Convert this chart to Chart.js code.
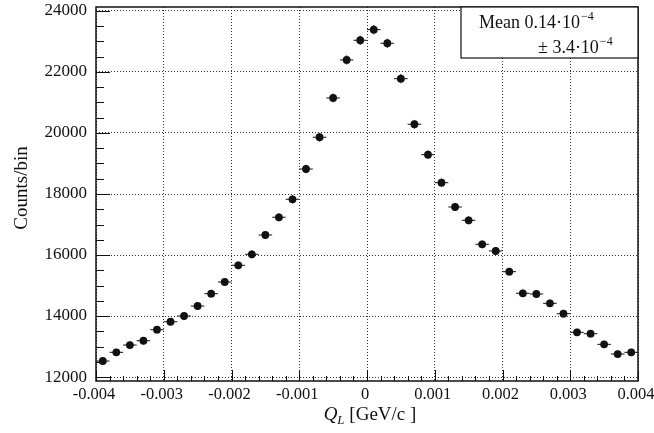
<!DOCTYPE html>
<html>
<head>
<meta charset="utf-8">
<script src="https://cdn.jsdelivr.net/npm/chart.js@4"></script>
<style>
  body { margin: 0; background: #fff; }
  #wrap { width: 654px; height: 433px; }
</style>
</head>
<body>
<div id="wrap"><canvas id="grafico"></canvas></div>
<script>
// bin centers in GeV/c (bin width 0.0002)
const binCenters = [-0.0039, -0.0037, -0.0035, -0.0033, -0.0031, -0.0029, -0.0027, -0.0025, -0.0023, -0.0021,
  -0.0019, -0.0017, -0.0015, -0.0013, -0.0011, -0.0009, -0.0007, -0.0005, -0.0003, -0.0001,
  0.0001, 0.0003, 0.0005, 0.0007, 0.0009, 0.0011, 0.0013, 0.0015, 0.0017, 0.0019,
  0.0021, 0.0023, 0.0025, 0.0027, 0.0029, 0.0031, 0.0033, 0.0035, 0.0037, 0.0039];
const counts = [12525, 12810, 13049, 13190, 13551, 13813, 14000, 14328, 14731, 15115,
  15663, 16023, 16656, 17237, 17827, 18820, 19860, 21149, 22395, 23040,
  23388, 22942, 21781, 20286, 19289, 18371, 17574, 17138, 16351, 16132,
  15453, 14745, 14722, 14417, 14076, 13466, 13420, 13072, 12754, 12810];
const countErrors = [112, 113, 114, 115, 116, 118, 118, 120, 121, 123,
  125, 127, 129, 131, 134, 137, 141, 145, 150, 152,
  153, 151, 148, 142, 139, 136, 133, 131, 128, 127,
  124, 121, 121, 120, 119, 116, 116, 114, 113, 113];
const binHalfWidth = 0.0001;

const xTicks = [-0.004, -0.003, -0.002, -0.001, 0, 0.001, 0.002, 0.003, 0.004];
const yTicks = [12000, 14000, 16000, 18000, 20000, 22000, 24000];
const xMinorStep = 0.0002;
const yMinorStep = 500;

const statLines = [['Mean 0.14\u00b710', '\u22124'], ['\u00b1 3.4\u00b710', '\u22124']];
const yTitle = 'Counts/bin';

const serif = '"Liberation Serif", "DejaVu Serif", serif';

const decor = {
  id: 'decor',
  beforeDatasetsDraw(chart) {
    const ctx = chart.ctx;
    const xs = chart.scales.x, ys = chart.scales.y;
    ctx.save();
    ctx.strokeStyle = '#111';
    ctx.lineWidth = 1;
    binCenters.forEach((c, i) => {
      const px = xs.getPixelForValue(c);
      const py = ys.getPixelForValue(counts[i]);
      ctx.beginPath();
      ctx.moveTo(xs.getPixelForValue(c - binHalfWidth), py);
      ctx.lineTo(xs.getPixelForValue(c + binHalfWidth), py);
      ctx.moveTo(px, ys.getPixelForValue(counts[i] - countErrors[i]));
      ctx.lineTo(px, ys.getPixelForValue(counts[i] + countErrors[i]));
      ctx.stroke();
    });
    ctx.restore();
  },
  afterDraw(chart) {
    const ctx = chart.ctx;
    const a = chart.chartArea;
    const xs = chart.scales.x, ys = chart.scales.y;
    ctx.save();
    ctx.strokeStyle = '#111';
    // tick marks, inward
    ctx.lineWidth = 1;
    ctx.beginPath();
    for (let v = 12000; v <= 24000; v += yMinorStep) {
      const py = Math.round(ys.getPixelForValue(v)) + 0.5;
      const len = (v % 2000 === 0) ? 14 : 8;
      ctx.moveTo(a.left, py);
      ctx.lineTo(a.left + len, py);
    }
    for (let k = -20; k <= 20; k++) {
      const v = k * xMinorStep;
      const px = Math.round(xs.getPixelForValue(v)) + 0.5;
      const len = (k % 5 === 0) ? 11 : 5;
      ctx.moveTo(px, a.bottom);
      ctx.lineTo(px, a.bottom - len);
    }
    ctx.stroke();
    // frame
    ctx.lineWidth = 1.5;
    ctx.strokeRect(a.left, a.top, a.right - a.left, a.bottom - a.top);

    // stats box
    const bx = 461, by = a.top;
    ctx.fillStyle = '#fff';
    ctx.fillRect(bx, by, a.right - bx, 51);
    ctx.lineWidth = 1.2;
    ctx.strokeRect(bx, by, a.right - bx, 51);
    ctx.fillStyle = '#111';
    ctx.textBaseline = 'alphabetic';
    ctx.textAlign = 'left';
    const starts = [[479, 28], [538, 53]];
    statLines.forEach((ln, i) => {
      ctx.font = '18px ' + serif;
      ctx.fillText(ln[0], starts[i][0], starts[i][1]);
      const w = ctx.measureText(ln[0]).width;
      ctx.font = '12px ' + serif;
      ctx.fillText(ln[1], starts[i][0] + w + 1, starts[i][1] - 8);
    });

    // x axis title: Q_L [GeV/c ]
    ctx.font = 'italic 19px ' + serif;
    const q = 'Q';
    const qw = ctx.measureText(q).width;
    ctx.font = 'italic 13px ' + serif;
    const lw = ctx.measureText('L').width;
    ctx.font = '19px ' + serif;
    const rest = ' [GeV/c ]';
    const rw = ctx.measureText(rest).width;
    let tx = 370 - (qw + lw + rw) / 2;
    const ty = 420;
    ctx.font = 'italic 19px ' + serif;
    ctx.fillText(q, tx, ty);
    tx += qw;
    ctx.font = 'italic 13px ' + serif;
    ctx.fillText('L', tx, ty + 4);
    tx += lw;
    ctx.font = '19px ' + serif;
    ctx.fillText(rest, tx, ty);

    // y axis title
    ctx.translate(27, (a.top + a.bottom) / 2 - 6);
    ctx.rotate(-Math.PI / 2);
    ctx.textAlign = 'center';
    ctx.font = '19px ' + serif;
    ctx.fillText(yTitle, 0, 0);
    ctx.restore();
  }
};

const chart = new Chart(document.getElementById('grafico'), {
  type: 'scatter',
  data: {
    datasets: [{
      data: binCenters.map((c, i) => ({ x: c, y: counts[i] })),
      backgroundColor: '#111',
      borderColor: '#111',
      pointRadius: 3.9,
      pointBorderWidth: 0
    }]
  },
  options: {
    responsive: true,
    maintainAspectRatio: false,
    animation: false,
    layout: { padding: { top: 7, right: 16, left: 0, bottom: 0 } },
    plugins: { legend: { display: false }, tooltip: { enabled: false } },
    scales: {
      x: {
        type: 'linear',
        min: -0.004,
        max: 0.004,
        afterBuildTicks: s => { s.ticks = xTicks.map(v => ({ value: v })); },
        afterFit: s => { s.height = 52; s.paddingLeft = 0; s.paddingRight = 0; },
        ticks: {
          color: '#111',
          font: { family: serif, size: 16.5 },
          padding: 4,
          labelOffset: -2,
          maxRotation: 0,
          autoSkip: false,
          callback: v => (v === 0 ? '0' : v.toFixed(3))
        },
        grid: { color: '#333', lineWidth: 1, drawTicks: false },
        border: { display: false, dash: [1, 2] }
      },
      y: {
        min: 11870,
        max: 24130,
        afterBuildTicks: s => { s.ticks = yTicks.map(v => ({ value: v })); },
        afterFit: s => { s.width = 96; s.paddingTop = 0; s.paddingBottom = 0; },
        ticks: {
          color: '#111',
          font: { family: serif, size: 17 },
          padding: 9,
          autoSkip: false,
          callback: v => String(v)
        },
        grid: { color: '#333', lineWidth: 1, drawTicks: false },
        border: { display: false, dash: [1, 2] }
      }
    }
  },
  plugins: [decor]
});
</script>
</body>
</html>
